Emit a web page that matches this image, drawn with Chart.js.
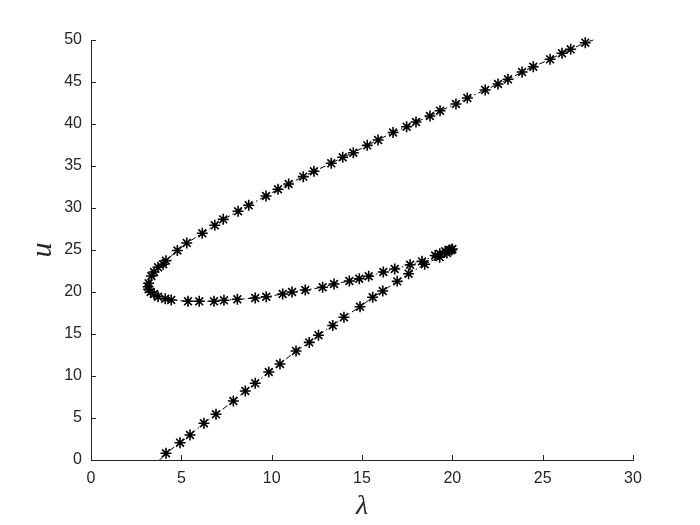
<!DOCTYPE html>
<html>
<head>
<meta charset="utf-8">
<script src="https://cdn.jsdelivr.net/npm/chart.js@4.4.1/dist/chart.umd.min.js"></script>
<style>
  html, body { margin: 0; padding: 0; background: #fff; }
  #wrap { width: 700px; height: 525px; }
</style>
</head>
<body>
<div id="wrap"><canvas id="myChart" width="700" height="525"></canvas></div>
<script>
// lambda values along the solution curve (lower branch -> fold -> middle -> upper)
// first and last entries are where the line leaves the axes (no marker there)
const lam = [
  3.8, 4.15, 4.93, 5.48, 6.25, 6.92, 7.88, 8.54, 9.09, 9.84, 10.46,
  11.35, 12.08, 12.59, 13.38, 14.0, 14.89, 15.59, 16.15, 16.95, 17.58, 18.47,
  19.3, 19.7, 19.95, 20.0,
  19.85, 19.6, 19.3, 19.05, 18.32, 17.66, 16.81, 16.18, 15.37, 14.85, 14.3,
  13.45, 12.82, 11.86, 11.13, 10.61, 9.7, 9.09, 8.1, 7.36, 6.81, 5.99, 5.37,
  4.44, 4.11, 3.71, 3.49, 3.3, 3.19, 3.16, 3.19, 3.34, 3.49, 3.71, 3.99, 4.15,
  4.78, 5.3, 6.16, 6.85, 7.32, 8.14, 8.73, 9.69, 10.35, 10.94, 11.75, 12.34,
  13.3, 13.93, 14.52, 15.29, 15.89, 16.72, 17.47, 17.99, 18.76, 19.32, 20.2,
  20.83, 21.82, 22.53, 23.08, 23.86, 24.48, 25.41, 26.07, 26.55, 27.36, 27.8
];
const uVals = [
  0, 0.8, 2.06, 2.98, 4.37, 5.44, 7.02, 8.21, 9.13, 10.48, 11.43,
  12.98, 14.0, 14.86, 16.01, 16.99, 18.25, 19.37, 20.12, 21.27, 22.18, 23.3,
  24.15, 24.65, 25.0, 25.12,
  25.0, 24.85, 24.55, 24.35, 23.65, 23.25, 22.74, 22.38, 21.87, 21.58, 21.31,
  20.95, 20.56, 20.24, 20.0, 19.76, 19.44, 19.29, 19.13, 19.01, 18.89, 18.89, 18.89,
  19.05, 19.2, 19.44, 19.76, 20.0, 20.32, 20.63, 21.04, 21.9, 22.38, 22.94, 23.3, 23.73,
  24.94, 25.83, 26.99, 27.94, 28.65, 29.61, 30.32, 31.43, 32.23, 32.86, 33.73, 34.37,
  35.32, 36.04, 36.58, 37.46, 38.1, 38.99, 39.68, 40.24, 40.95, 41.58, 42.38,
  43.1, 44.05, 44.76, 45.32, 46.19, 46.82, 47.7, 48.42, 48.89, 49.68, 50
];
const xTicks = [0, 5, 10, 15, 20, 25, 30];
const yTicks = [0, 5, 10, 15, 20, 25, 30, 35, 40, 45, 50];

const axisColor = '#262626';

// MATLAB style ticks pointing into the plot
const inwardTicks = {
  id: 'inwardTicks',
  afterDraw(chart) {
    const c = chart.ctx;
    const area = chart.chartArea;
    c.save();
    c.strokeStyle = axisColor;
    c.lineWidth = 1;
    c.beginPath();
    xTicks.forEach(function(v) {
      const px = Math.round(chart.scales.x.getPixelForValue(v)) + 0.5;
      c.moveTo(px, area.bottom);
      c.lineTo(px, area.bottom - 5);
    });
    yTicks.forEach(function(v) {
      const py = Math.round(chart.scales.y.getPixelForValue(v)) + 0.5;
      c.moveTo(area.left, py);
      c.lineTo(area.left + 5, py);
    });
    c.stroke();
    c.restore();
  }
};

const points = lam.map(function(l, i) { return { x: l, y: uVals[i] }; });
const lastIdx = points.length - 1;

const ctx = document.getElementById('myChart').getContext('2d');
const myChart = new Chart(ctx, {
  type: 'scatter',
  data: {
    datasets: [{
      data: points,
      showLine: true,
      clip: false,
      borderColor: '#000',
      borderWidth: 1,
      borderDash: [6, 3, 1.5, 3],
      pointStyle: 'star',
      pointRadius: function(c) { return (c.dataIndex === 0 || c.dataIndex === lastIdx) ? 0 : 5.5; },
      pointBorderColor: '#000',
      pointBorderWidth: 1.6,
      pointBackgroundColor: '#000',
      tension: 0
    }]
  },
  options: {
    responsive: false,
    animation: false,
    layout: { padding: { left: 0, right: 67, top: 40, bottom: 0 } },
    plugins: { legend: { display: false }, tooltip: { enabled: false } },
    scales: {
      x: {
        type: 'linear',
        min: 0,
        max: 30,
        afterBuildTicks: function(scale) { scale.ticks = xTicks.map(function(v) { return { value: v }; }); },
        afterFit: function(scale) { scale.height = 65; },
        grid: { display: false, drawTicks: false },
        border: { display: true, color: axisColor, width: 1 },
        ticks: { color: axisColor, padding: 9, font: { family: 'Liberation Sans', size: 16 } },
        title: {
          display: true,
          text: 'λ',
          color: axisColor,
          padding: { top: 0, bottom: 2 },
          font: { family: 'Liberation Serif', size: 28, style: 'italic' }
        }
      },
      y: {
        type: 'linear',
        min: 0,
        max: 50,
        afterBuildTicks: function(scale) { scale.ticks = yTicks.map(function(v) { return { value: v }; }); },
        afterFit: function(scale) { scale.width = 91; },
        grid: { display: false, drawTicks: false },
        border: { display: true, color: axisColor, width: 1 },
        ticks: { color: axisColor, padding: 9, font: { family: 'Liberation Sans', size: 16 } },
        title: {
          display: true,
          text: 'u',
          color: axisColor,
          padding: { top: 25, bottom: 0 },
          font: { family: 'Liberation Serif', size: 30, style: 'italic' }
        }
      }
    }
  },
  plugins: [inwardTicks]
});
</script>
</body>
</html>
